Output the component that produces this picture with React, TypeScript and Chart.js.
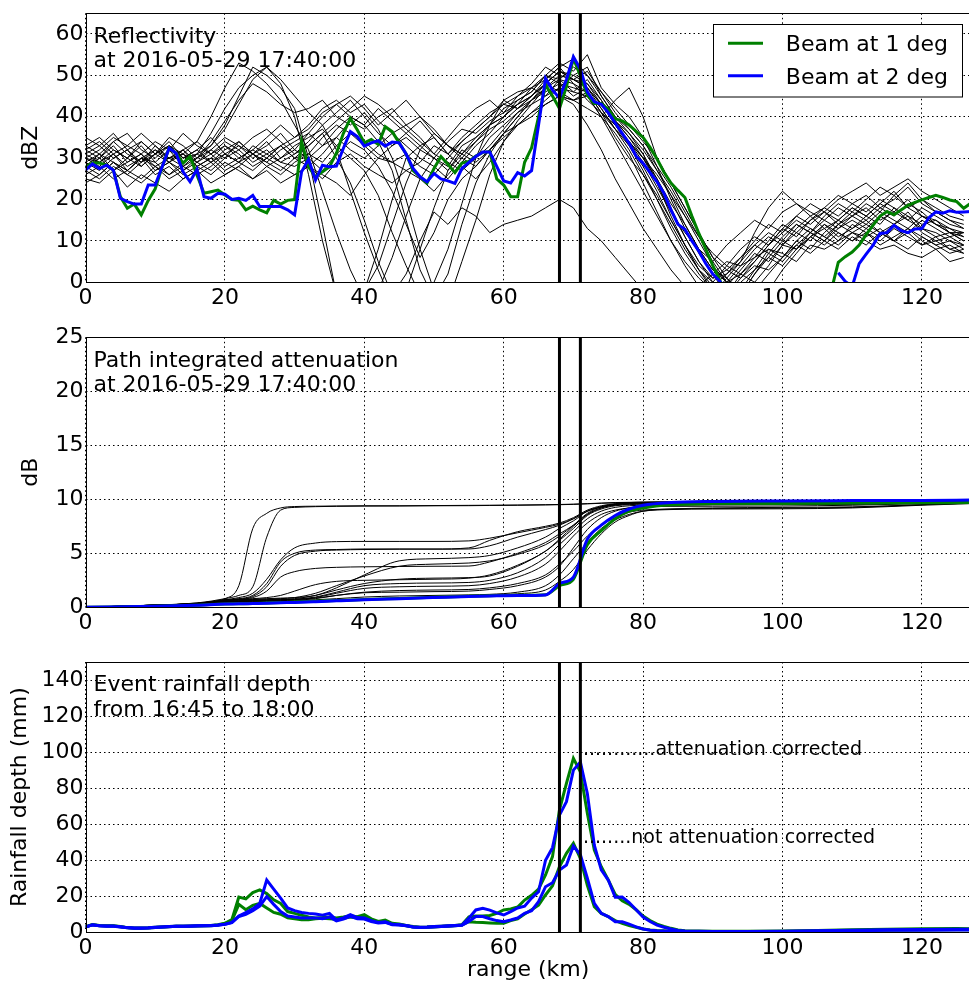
import React, { useEffect, useRef } from 'react';
import { Chart, registerables } from 'chart.js';

Chart.register(...registerables);

// ---------------- DATA ----------------
// Range (km) of the 1-km sampled beams
const rangeKm1 = [0,1,2,3,4,5,6,7,8,9,10,11,12,13,14,15,16,17,18,19,20,21,22,23,24,25,26,27,28,29,30,31,32,33,34,35,36,37,38,39,40,41,42,43,44,45,46,47,48,49,50,51,52,53,54,55,56,57,58,59,60,61,62,63,64,65,66,67,68,69,70,71,72,73,74,75,76,77,78,79,80,81,82,83,84,85,86,87,88,89,90,91,92,93,94,95,96,97,98,99,100,101,102,103,104,105,106,107,108,109,110,111,112,113,114,115,116,117,118,119,120,121,122,123,124,125,126,127];
// Range (km) of the 2-km sampled neighbouring beams
const rangeKm2 = [0,2,4,6,8,10,12,14,16,18,20,22,24,26,28,30,32,34,36,38,40,42,44,46,48,50,52,54,56,58,60,62,64,66,68,70,72,74,76,78,80,82,84,86,88,90,92,94,96,98,100,102,104,106,108,110,112,114,116,118,120,122,124,126];

// Reflectivity (dBZ)
const reflBeam1 = [27.9,28.8,28.8,28.3,27.1,20.7,17.9,18.9,16.3,19.8,22.6,27.9,32.4,31.2,28.8,30.4,25.9,21.5,21.9,22.3,21.1,20.0,19.8,17.5,18.4,17.5,16.8,19.8,18.9,19.8,20.0,34.0,27.9,25.5,26.7,27.9,31.2,36.0,39.6,36.8,33.7,34.5,33.3,37.6,36.4,33.7,
  31,27,25.5,24,27.5,30.4,28.5,26.5,28.8,29.2,30.5,31.4,31.6,25,23.5,20.7,20.7,29,32.5,40,47.7,45,42,47.3,54.1,49.9,45.2,43.2,43.2,41.8,39.5,39,38,36.5,35,32.6,29.8,26.6,24,22.2,20.5,16,11.8,8,4,0.5,-3,
  null,null,null,null,null,null,null,null,null,null,null,null,null,null,
  -2,4.8,6.2,7.3,9,11.5,13.8,16,17.1,16.3,17.5,18.6,19.3,19.9,20.5,21,20.5,19.9,19.5,17.9,19.1];
const reflBeam2 = [27.1,28.6,27.5,28.3,27.1,20.3,19.5,18.9,18.9,23.5,23.5,27.9,32.4,31.2,26.7,24.3,27.3,20.7,20.3,21.5,21.3,20.0,20.3,19.8,21.0,18.3,18.3,18.3,18.3,17.5,16.3,26.7,29.7,24.7,28.3,27.9,28.1,32.4,36.4,35.2,32.9,33.7,34.2,32.9,33.9,33.7,
  31,27.5,25.5,24.3,26.3,25,24.5,23.9,27.5,29,30.4,31.5,31.5,28,24.5,24,26.5,25.7,27,38,49.3,46.5,44.5,49,54.5,51.5,46,43.6,43,41,38.5,36,33.6,30.5,28.8,26.5,24.3,21.5,17.5,14,12.8,10,7.5,4.5,2,0.3,-3,
  null,null,null,null,null,null,null,null,null,null,null,null,null,null,null,
  2.3,0.2,-1,4.5,6.8,9,11.8,12,13.8,12.5,12,12.9,13,15.6,17,16.7,17.3,16.9,17,17.1];

const reflLine01 = [31,33,30,32,29,31,34,30, 32,29,31,33,30,32,29,31, 34,38,41,44,40,36,33,35, 32,30,28,33,35,38,42,44, 46,50,53,51,55,47,43,40, 35,28,20,13,7,2,-3,2, 6,10,14,12,15,17,14,16, 18,15,17,20,16,14,12,11];
const reflLine02 = [28,30,27,29,31,27,29,32, 28,30,33,31,28,30,33,30, 31,35,38,36,33,30,29,31, 28,26,30,34,37,40,43,45, 48,52,50,49,48,44,38,34, 30,24,17,11,5,0,-4,-2, 3,8,6,10,13,11,9,12, 14,12,10,13,11,9,10,8];
const reflLine03 = [30,28,31,27,30,29,26,28, 30,33,38,45,52,50,47,42, 30,14,-3,-6,-2,8,20,30, 33,35,31,34,37,40,44,42, 45,48,51,50,52,45,40,36, 31,24,16,9,3,-2,0,4, 8,11,9,13,16,13,15,18, 16,19,22,18,20,17,15,13];
const reflLine04 = [27,30,33,29,31,28,30,31, 34,40,47,53,51,48,44,38, 32,22,12,3,-4,-2,6,16, 25,30,34,37,36,39,41,43, 45,49,52,54,50,46,41,37, 33,27,22,16,10,4,0,-3, 2,7,5,9,12,10,14,12, 11,13,10,12,9,11,8,9];
const reflLine05 = [33,35,32,30,34,31,33,30, 31,36,42,47,50,52,49,45, 41,38,32,22,12,3,-5,-2, 8,18,27,32,30,35,38,41, 44,47,50,49,51,46,42,38, 34,30,24,18,12,6,3,1, 5,9,13,11,15,18,16,19, 21,18,20,23,19,17,15,14];
const reflLine06 = [29,27,30,32,28,31,29,27, 30,34,39,44,48,46,43,41, 42,44,40,38,41,37,30,20, 8,-2,-5,5,15,26,34,38, 41,44,47,46,49,44,39,35, 31,25,18,11,5,1,3,6, 9,12,10,8,11,14,12,10, 12,9,11,13,10,8,9,7];
const reflLine07 = [26,28,25,27,30,26,28,25, 27,29,26,28,31,29,27,30, 33,36,30,24,15,5,-3,2, 10,17,14,18,16,12,14,15, 16,18,20,18,13,10,6,2, -2,-5,-6,-4,-1,2,5,4, 6,8,7,5,9,8,10,12, 10,8,9,7,6,8,5,6];
const reflLine08 = [32,30,34,31,29,33,30,32, 29,31,28,30,32,30,33,35, 38,42,44,41,43,39,36,33, 30,28,25,29,33,36,40,43, 47,49,52,48,46,42,37,33, 28,22,15,9,3,-1,2,6, 10,14,12,16,19,17,20,22, 24,21,23,25,22,20,18,16];
const reflLine09 = [27,25,28,26,24,27,29,26, 28,26,29,27,25,28,26,29, 31,29,33,36,34,31,29,27, 25,22,26,30,28,32,36,40, 44,46,48,45,47,43,38,33, 27,20,13,7,2,-2,-1,3, 7,5,9,8,12,10,13,15, 13,16,14,12,15,13,11,12];
const reflLine10 = [35,33,36,32,34,31,35,33, 30,32,35,33,31,34,30,32, 36,40,43,45,42,38,41,44, 40,36,33,30,34,37,39,42, 45,48,46,44,45,40,36,31, 24,17,10,4,-1,-3,1,5, 12,18,22,19,17,15,18,16, 19,17,21,18,16,15,13,12];
const reflLine11 = [30,29,31,28,30,32,29,31, 28,30,27,29,31,28,30,33, 35,37,33,30,27,21,12,4, -3,0,8,19,30,38,44,46, 47,50,48,47,46,41,35,30, 26,20,14,8,3,0,-3,1, 4,3,6,9,7,10,8,11, 9,12,10,8,11,9,7,8];
const reflLine12 = [29,31,27,30,33,29,32,28, 26,28,31,29,27,30,28,26, 28,31,35,39,37,40,42,38, 35,31,29,27,30,33,37,41, 43,45,47,50,48,43,39,35, 30,25,19,14,8,3,1,-2, 0,4,9,12,10,14,11,13, 15,12,14,17,13,12,10,9];
const reflLine13 = [28,26,29,27,25,28,26,29, 31,33,37,43,49,52,48,40, 26,10,-3,-5,-2,4,14,24, 32,36,33,31,35,38,40,44, 46,50,49,52,50,45,40,37, 33,28,23,17,11,5,0,-4, -2,2,6,10,8,12,15,13, 16,14,18,15,13,11,12,10];
const reflLine14 = [31,29,32,30,28,31,33,30, 32,35,31,29,33,31,29,28, 30,27,31,34,32,28,22,14, 6,12,20,25,28,32,35,38, 40,43,45,44,46,41,37,34, 30,26,21,16,11,7,4,2, 0,-2,3,7,11,9,12,10, 13,11,14,16,12,10,11,9];
const reflLine15 = [33,31,34,36,32,30,33,31, 29,32,30,34,31,33,36,32, 30,33,35,32,30,33,36,38, 40,37,33,31,29,32,36,38, 41,43,45,44,42,40,44,47, 40,30,24,18,12,6,1,-3, 2,6,10,14,12,16,19,17, 20,23,21,24,20,18,16,15];
const reflLine16 = [25,24,27,23,26,24,22,25, 27,24,26,28,25,27,24,26, 28,25,29,31,28,26,24,27, 29,33,31,35,38,41,43,42, 44,47,45,43,38,32,25,19, 13,8,3,-1,-3,0,4,8, 11,9,13,16,14,17,15,18, 16,19,17,15,18,16,14,13];
const reflLine17 = [30,32,35,33,31,34,32,36, 33,31,34,32,35,37,34,31, 33,36,39,42,45,43,40,37, 34,31,35,39,42,44,41,45, 47,45,49,48,44,41,38,34, 29,23,17,12,8,5,9,12, 15,13,17,19,16,18,21,19, 17,20,18,16,14,15,12,10];
const reflLine18 = [24,26,29,27,30,28,25,27, 29,27,30,32,29,31,33,30, 28,26,24,21,26,30,33,36, 39,35,31,28,25,29,34,39, 43,47,49,46,45,40,34,28, 22,16,10,5,1,-2,-4,0, 3,6,4,8,11,13,10,14, 12,10,13,11,9,10,8,7];
const reflLine19 = [32,34,31,33,36,33,30,32, 34,31,33,30,32,35,38,35, 37,41,43,40,38,34,27,15, 3,-4,2,14,24,31,36,40, 44,48,51,49,47,43,39,36, 32,27,21,14,8,3,0,2, 5,9,12,15,13,11,14,17, 15,18,16,19,17,14,13,11];
const reflLine20 = [28,31,29,26,29,32,30,28, 31,29,32,34,31,29,32,34, 36,33,37,40,38,42,39,36, 33,30,27,31,34,38,40,43, 45,48,51,49,47,42,37,32, 26,21,15,9,4,1,2,5, 9,7,11,14,12,15,13,16, 14,17,15,13,16,14,12,12];

// Path integrated attenuation (dB)
const piaKm = [0,10,16,20,22,24,26,28,30,33,36,40,45,50,55,58,62,66,68,70,72,74,76,78,80,84,90,100,110,120,127];
const piaBeam1 = [0,0.1,0.2,0.3,0.33,0.36,0.4,0.44,0.48,0.55,0.62,0.72,0.82,0.92,1.02,1.07,1.12,1.17,2.0,2.6,5.8,7.1,8.2,8.9,9.2,9.5,9.6,9.62,9.65,9.68,9.7];
const piaBeam2 = [0,0.1,0.2,0.3,0.32,0.35,0.38,0.42,0.45,0.52,0.6,0.7,0.8,0.9,1.0,1.05,1.1,1.15,2.2,2.8,6.3,7.6,8.5,9.1,9.45,9.7,9.8,9.85,9.88,9.9,9.93];
const piaLine01 = [0,0.2,0.4,0.8,2.0,7.3,8.7,9.2,9.33,9.36,9.38,9.4,9.4,9.42,9.44,9.45,9.47,9.5,9.52,9.55,9.6,9.65,9.7,9.72,9.74,9.76,9.78,9.8,9.82,9.84,9.85];
const piaLine02 = [0,0.2,0.4,0.8,1.1,1.9,6.5,9.0,9.25,9.32,9.35,9.37,9.38,9.4,9.41,9.43,9.45,9.48,9.5,9.53,9.58,9.63,9.68,9.7,9.72,9.74,9.76,9.78,9.8,9.82,9.84];
const piaLine03 = [0,0.2,0.35,0.7,0.9,1.3,2.6,4.4,5.5,5.95,6.08,6.1,6.1,6.1,6.15,6.4,6.9,7.4,7.7,8.2,8.9,9.3,9.55,9.65,9.7,9.72,9.72,9.73,9.74,9.78,9.8];
const piaLine04 = [0,0.2,0.35,0.7,0.8,1.1,2.2,4.2,5.0,5.3,5.35,5.4,5.4,5.4,5.5,6.2,7.0,7.5,7.8,8.3,9.0,9.4,9.6,9.7,9.72,9.74,9.74,9.75,9.76,9.78,9.8];
const piaLine05 = [0,0.2,0.35,0.65,0.75,1.0,1.9,3.8,4.8,5.2,5.3,5.35,5.38,5.38,5.4,5.7,6.5,7.2,7.6,8.2,8.9,9.3,9.55,9.65,9.7,9.72,9.73,9.74,9.75,9.77,9.8];
const piaLine06 = [0,0.2,0.35,0.65,0.75,0.9,1.5,2.8,3.3,3.6,3.7,3.75,3.78,3.8,3.82,4.2,5.0,6.0,6.8,7.6,8.6,9.2,9.5,9.6,9.65,9.68,9.7,9.72,9.74,9.76,9.78];
const piaLine07 = [0,0.2,0.35,0.6,0.7,0.75,0.8,0.85,0.9,1.1,1.8,3.0,4.3,4.5,4.6,4.8,5.5,6.5,7.3,8.0,8.9,9.3,9.55,9.65,9.7,9.7,9.7,9.72,9.74,9.76,9.78];
const piaLine08 = [0,0.2,0.35,0.6,0.68,0.72,0.75,0.8,0.9,1.3,2.0,2.9,3.8,4.0,4.1,4.3,4.9,5.8,6.6,7.6,8.7,9.3,9.5,9.6,9.65,9.65,9.66,9.68,9.7,9.74,9.78];
const piaLine09 = [0,0.15,0.3,0.55,0.62,0.66,0.7,0.75,0.8,1.1,1.6,2.2,2.6,2.7,2.75,2.9,3.8,5.2,6.2,7.3,8.5,9.1,9.4,9.5,9.55,9.55,9.56,9.58,9.62,9.68,9.75];
const piaLine10 = [0,0.15,0.3,0.55,0.6,0.63,0.66,0.7,0.75,0.95,1.4,2.0,2.2,2.25,2.3,2.5,3.2,4.6,5.8,7.0,8.2,8.9,9.25,9.4,9.45,9.5,9.5,9.52,9.55,9.65,9.72];
const piaLine11 = [0,0.15,0.3,0.5,0.55,0.58,0.6,0.65,0.7,0.9,1.3,1.75,1.9,1.95,2.0,2.2,2.8,4.0,5.2,6.6,7.8,8.6,9.0,9.2,9.3,9.35,9.36,9.38,9.45,9.6,9.7];
const piaLine12 = [0,0.15,0.3,0.5,0.55,0.57,0.6,0.62,0.65,0.8,1.1,1.4,1.55,1.6,1.65,1.8,2.2,3.0,4.0,5.2,6.6,7.6,8.3,8.8,9.0,9.1,9.15,9.18,9.25,9.5,9.65];
const piaLine13 = [0,0.12,0.25,0.45,0.5,0.52,0.55,0.58,0.6,0.7,0.8,0.95,1.05,1.1,1.15,1.2,1.4,2.0,3.0,4.5,6.0,7.3,8.1,8.6,8.9,9.05,9.1,9.12,9.2,9.45,9.6];
const piaLine14 = [0,0.1,0.2,0.35,0.4,0.42,0.45,0.48,0.5,0.55,0.62,0.7,0.8,0.9,1.0,1.1,1.25,1.6,2.4,3.5,5.3,6.8,7.9,8.5,8.9,9.1,9.2,9.25,9.3,9.5,9.65];
const piaLine15 = [0,0.15,0.3,0.5,0.55,0.6,0.65,0.7,0.72,0.85,1.1,1.35,1.4,1.45,1.5,1.65,2.0,2.8,3.8,5.5,7.2,8.3,8.9,9.2,9.35,9.45,9.5,9.52,9.55,9.62,9.7];
const piaLine16 = [0,0.2,0.35,0.6,0.7,0.8,0.9,1.1,1.5,2.1,2.4,2.5,2.55,2.6,2.7,3.0,3.9,5.2,6.3,7.5,8.6,9.2,9.45,9.55,9.6,9.62,9.63,9.65,9.68,9.74,9.78];

// Event rainfall depth (mm)
const rainKm = [0,1,2,3,4,5,6,7,8,9,10,11,12,13,14,15,16,17,18,19,20,21,22,23,24,25,26,27,28,29,30,31,32,33,34,35,36,37,38,39,40,41,42,43,44,45,46,47,48,49,50,51,52,53,54,55,56,57,58,59,60,61,62,63,64,65,66,67,68,69,70,71,72,73,74,75,76,77,78,79,80,81,82,83,84,85,86,90,95,100,105,110,115,120,125,127];
const rainCorrBeam1 = [3.1,4.3,3.8,3.6,3.6,3.2,2.6,2.4,2.4,2.5,2.8,3.0,3.2,3.4,3.4,3.5,3.6,3.7,3.8,4.2,
  5,7,19.5,18.5,22,23.5,21.5,18,16,11.5,10.5,9.5,8.5,8.0,8.2,8.5,8.0,8.5,9.2,8.7,9.8,7.5,6,6.8,5,4.6,
  3.8,3.2,2.8,2.9,3.2,3.4,3.6,3.8,4.2,
  8.5,9,9,9.3,10.5,12.4,13,14,17.9,20.5,24,31.8,42,68,82.7,96.5,89,66,45.7,36.4,29,21,17.5,15.5,12.5,9,6.5,4.5,3.2,2.2,1.3,0.8,
  0.6,0.6,0.7,1.0,1.4,1.7,2.0,2.1,2.0];
const rainCorrBeam2 = [3.0,4.2,3.7,3.5,3.5,3.1,2.6,2.4,2.4,2.5,2.8,3.0,3.2,3.4,3.4,3.5,3.6,3.7,3.8,4.0,
  4.5,5.5,9,11,13,16,29,24,19,13.5,12,11,10.5,10.2,9.5,10.5,6.8,8,9.8,8.2,8,6.5,5.5,5.8,4.4,4.2,
  3.8,3.0,2.8,2.9,3.2,3.4,3.6,3.8,4.0,
  7.8,12.4,13.3,12.3,10.8,9.6,11.5,13.5,14.5,19,22.5,40,47,65,72.5,90,94.5,77,48.4,34.6,29,19.5,19.6,16.5,12.5,8.5,6,4,2.8,1.8,1.0,0.7,
  0.5,0.5,0.6,0.8,1.2,1.4,1.6,1.7,1.7];
const rainRawBeam1 = [3.0,4.2,3.7,3.5,3.5,3.1,2.5,2.3,2.3,2.4,2.7,2.9,3.1,3.3,3.3,3.4,3.5,3.6,3.7,4.0,
  4.8,6.5,15.5,12.5,15,16,13.5,11,10,8,7.5,7,7,7.5,7.8,7.5,7.2,7.8,8.5,8,8.8,6.8,5.5,6,4.5,4.3,
  3.6,3.0,2.7,2.8,3.0,3.2,3.4,3.6,4.0,
  5.9,5.6,5.4,5.2,5.0,5.0,6.5,7.5,10.1,12.5,15,20.7,25.8,36.4,43.8,49.4,41,26,14.2,10.5,8.7,6.5,5,3.8,2.8,1.8,1.3,1.0,0.8,0.6,0.5,0.5,
  0.5,0.5,0.5,0.7,1.0,1.2,1.3,1.4,1.4];
const rainRawBeam2 = [2.9,4.1,3.6,3.4,3.4,3.0,2.5,2.3,2.3,2.4,2.7,2.9,3.1,3.3,3.3,3.4,3.5,3.6,3.7,3.9,
  4.4,5.3,8.8,10,12,14.5,19.8,15.5,11.5,9,8.5,8,8,8,7.5,8.5,6.3,7.3,8.8,7.5,7.4,6,5.2,5.5,4.2,4.0,
  3.6,2.9,2.7,2.8,3.0,3.2,3.4,3.6,3.9,
  6,8.7,8.7,7.5,6.5,5.9,6.8,7.9,10.5,12,17,25.3,27.5,34.6,37.3,47.9,43,30,16.1,10.5,8.7,5.9,5.8,4.5,3,1.8,1.2,0.9,0.7,0.6,0.5,0.5,
  0.4,0.4,0.5,0.6,0.9,1.1,1.2,1.3,1.3];

// Markers (km) of the highlighted cell, and texts
const markerKm = [68, 71];
const legendLabels = ['Beam at 1 deg', 'Beam at 2 deg'];
const reflTitle = ['Reflectivity', 'at 2016-05-29 17:40:00'];
const piaTitle = ['Path integrated attenuation', 'at 2016-05-29 17:40:00'];
const rainTitle = ['Event rainfall depth', 'from 16:45 to 18:00'];
const rainNotes = [
  { text: '.............attenuation corrected', km: 70.5, mm: 98.2 },
  { text: '.........not attenuation corrected', km: 70.5, mm: 49.3 },
];

// ---------------- STYLE / LAYOUT ----------------
const GREEN = '#008000';
const BLUE = '#0000ff';
const FAMILY = "'DejaVu Sans', sans-serif";
const FS = 22;
const CANVAS_W = 1000;
const PLOT_LEFT = 85.5;
const PLOT_RIGHT = 970.7;

const pts = (xs: number[], ys: (number | null)[]) => xs.map((x, i) => ({ x, y: ys[i] }));

const blackSet = (xs: number[], ys: (number | null)[], smooth = false) => ({
  data: pts(xs, ys),
  borderColor: '#000',
  borderWidth: 1,
  pointRadius: 0,
  fill: false,
  cubicInterpolationMode: smooth ? 'monotone' : 'default',
});
const colorSet = (xs: number[], ys: (number | null)[], color: string, smooth = false) => ({
  data: pts(xs, ys),
  borderColor: color,
  borderWidth: 3,
  pointRadius: 0,
  fill: false,
  cubicInterpolationMode: smooth ? 'monotone' : 'default',
});

function makeOverlay(titleLines: string[], opts: { legend?: boolean; notes?: boolean }) {
  return {
    id: 'overlay',
    afterDatasetsDraw(chart: any) {
      const { ctx, chartArea: a, scales } = chart;
      ctx.save();
      ctx.beginPath();
      ctx.rect(a.left, a.top, a.right - a.left, a.bottom - a.top);
      ctx.clip();
      ctx.strokeStyle = '#000';
      ctx.lineWidth = 3;
      for (const km of markerKm) {
        const px = scales.x.getPixelForValue(km);
        ctx.beginPath();
        ctx.moveTo(px, a.top);
        ctx.lineTo(px, a.bottom);
        ctx.stroke();
      }
      ctx.restore();
    },
    afterDraw(chart: any) {
      const { ctx, chartArea: a, scales } = chart;
      ctx.save();
      ctx.strokeStyle = '#000';
      ctx.lineWidth = 1;
      ctx.strokeRect(Math.round(a.left) + 0.5, Math.round(a.top) + 0.5, Math.round(a.right - a.left), Math.round(a.bottom - a.top));
      ctx.fillStyle = '#000';
      ctx.font = `${FS}px ${FAMILY}`;
      ctx.textAlign = 'left';
      ctx.textBaseline = 'alphabetic';
      titleLines.forEach((t, i) => ctx.fillText(t, a.left + 8, a.top + 29.3 + i * 24.7));
      if (opts.legend) {
        const boxW = 249;
        const boxH = 72.5;
        const boxR = a.right - 8.7;
        const boxL = boxR - boxW;
        const boxT = a.top + 11;
        ctx.fillStyle = '#fff';
        ctx.fillRect(boxL, boxT, boxW, boxH);
        ctx.strokeStyle = '#000';
        ctx.lineWidth = 1;
        ctx.strokeRect(Math.round(boxL) + 0.5, Math.round(boxT) + 0.5, boxW, boxH);
        const colors = [GREEN, BLUE];
        legendLabels.forEach((label, i) => {
          const y = boxT + 19 + i * 32.4;
          ctx.strokeStyle = colors[i];
          ctx.lineWidth = 3;
          ctx.beginPath();
          ctx.moveTo(boxL + 15, y);
          ctx.lineTo(boxL + 50, y);
          ctx.stroke();
          ctx.fillStyle = '#000';
          ctx.fillText(label, boxL + 72.8, y + 8);
        });
      }
      if (opts.notes) {
        ctx.fillStyle = '#000';
        ctx.font = `19px ${FAMILY}`;
        for (const n of rainNotes) {
          ctx.fillText(n.text, scales.x.getPixelForValue(n.km), scales.y.getPixelForValue(n.mm));
        }
      }
      ctx.restore();
    },
  };
}

function makeOptions(p: {
  padTop: number; xHeight: number; yMax: number; yStep: number;
  yTitle: string; yTitlePad: number; xTitle?: string;
}) {
  const font = { family: FAMILY, size: FS };
  return {
    responsive: false,
    animation: false,
    events: [],
    layout: { padding: { top: p.padTop, left: 0, right: CANVAS_W - PLOT_RIGHT, bottom: 0 } },
    plugins: { legend: { display: false }, tooltip: { enabled: false } },
    elements: { point: { radius: 0 }, line: { tension: 0 } },
    scales: {
      x: {
        type: 'linear',
        min: 0,
        max: 127,
        ticks: { stepSize: 20, includeBounds: false, padding: 2.5, maxRotation: 0, autoSkip: false, color: '#000', font },
        grid: { color: '#000', lineWidth: 1, drawTicks: false },
        border: { display: false, dash: [1.5, 3] },
        title: p.xTitle
          ? { display: true, text: p.xTitle, color: '#000', font, padding: { top: 0, bottom: 5.8 } }
          : { display: false },
        afterFit: (s: any) => { s.height = p.xHeight; },
      },
      y: {
        type: 'linear',
        min: 0,
        max: p.yMax,
        ticks: { stepSize: p.yStep, includeBounds: false, padding: 2, color: '#000', font },
        grid: { color: '#000', lineWidth: 1, drawTicks: false },
        border: { display: false, dash: [1.5, 3] },
        title: { display: true, text: p.yTitle, color: '#000', font, padding: { top: p.yTitlePad, bottom: 0 } },
        afterFit: (s: any) => { s.width = PLOT_LEFT; },
      },
    },
  };
}

function Panel({ top, height, build }: { top: number; height: number; build: () => any }) {
  const ref = useRef<HTMLCanvasElement>(null);
  useEffect(() => {
    const chart = new Chart(ref.current as HTMLCanvasElement, build());
    return () => chart.destroy();
  }, []);
  return (
    <canvas
      ref={ref}
      width={CANVAS_W}
      height={height}
      style={{ position: 'absolute', left: 0, top, width: CANVAS_W, height, display: 'block' }}
    />
  );
}

const buildRefl = () => ({
  type: 'line',
  data: {
    datasets: [
      colorSet(rangeKm1, reflBeam2, BLUE),
      colorSet(rangeKm1, reflBeam1, GREEN),
      ...[reflLine01, reflLine02, reflLine03, reflLine04, reflLine05, reflLine06, reflLine07, reflLine08,
        reflLine09, reflLine10, reflLine11, reflLine12, reflLine13, reflLine14, reflLine15, reflLine16,
        reflLine17, reflLine18, reflLine19, reflLine20]
        .map((l) => blackSet(rangeKm2, l)),
    ],
  },
  options: makeOptions({ padTop: 33.3, xHeight: 37.7, yMax: 65, yStep: 10, yTitle: 'dBZ', yTitlePad: 18.5 }),
  plugins: [makeOverlay(reflTitle, { legend: true })],
});

const buildPia = () => ({
  type: 'line',
  data: {
    datasets: [
      colorSet(piaKm, piaBeam2, BLUE, true),
      colorSet(piaKm, piaBeam1, GREEN, true),
      ...[piaLine01, piaLine02, piaLine03, piaLine04, piaLine05, piaLine06, piaLine07, piaLine08,
        piaLine09, piaLine10, piaLine11, piaLine12, piaLine13, piaLine14, piaLine15, piaLine16]
        .map((l) => blackSet(piaKm, l, true)),
    ],
  },
  options: makeOptions({ padTop: 37.3, xHeight: 32.7, yMax: 25, yStep: 5, yTitle: 'dB', yTitlePad: 18.5 }),
  plugins: [makeOverlay(piaTitle, {})],
});

const buildRain = () => ({
  type: 'line',
  data: {
    datasets: [
      colorSet(rainKm, rainCorrBeam2, BLUE),
      colorSet(rainKm, rainRawBeam2, BLUE),
      colorSet(rainKm, rainCorrBeam1, GREEN),
      colorSet(rainKm, rainRawBeam1, GREEN),
    ],
  },
  options: makeOptions({
    padTop: 32, xHeight: 56.7, yMax: 150, yStep: 20,
    yTitle: 'Rainfall depth (mm)', yTitlePad: 6.8, xTitle: 'range (km)',
  }),
  plugins: [makeOverlay(rainTitle, { notes: true })],
});

export default function App() {
  return (
    <div style={{ position: 'absolute', left: 0, top: 0, width: 969, height: 989, overflow: 'hidden', background: '#fff' }}>
      <Panel top={-20} height={340} build={buildRefl} />
      <Panel top={300} height={340} build={buildPia} />
      <Panel top={630} height={359} build={buildRain} />
    </div>
  );
}
